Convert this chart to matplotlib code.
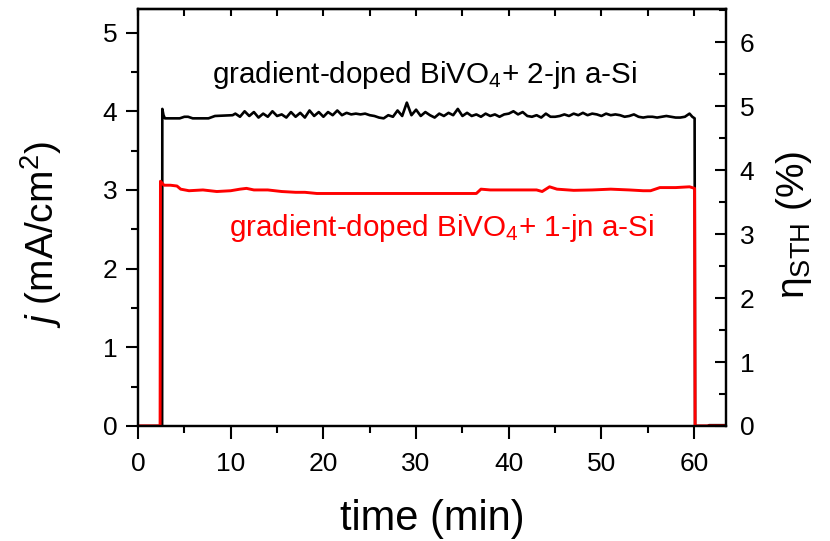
import numpy as np
import matplotlib
matplotlib.use("Agg")
import matplotlib.pyplot as plt
from matplotlib.ticker import MultipleLocator

plt.rcParams["font.family"] = ["Liberation Sans", "DejaVu Sans"]
plt.rcParams["mathtext.fontset"] = "custom"
plt.rcParams["mathtext.rm"] = "Liberation Sans"
plt.rcParams["mathtext.it"] = "Liberation Sans:italic"

# 2-junction a-Si (black) - start, noisy plateau, end
t_2jn_start = [0.0, 2.6, 2.62, 2.75, 2.9, 4.5, 5.0, 5.4, 5.9, 7.6, 8.3, 10.2]
j_2jn_start = [0.0, 0.0, 4.03, 3.95, 3.91, 3.91, 3.93, 3.93, 3.91, 3.91, 3.94, 3.95]

j_2jn_plateau = [
    3.97, 3.93, 4.00, 3.94, 3.99, 3.92, 3.97, 3.93, 4.00, 3.94,
    3.96, 3.92, 3.99, 3.93, 3.98, 3.92, 4.01, 3.94, 3.99, 3.93,
    3.99, 3.95, 4.01, 3.95, 3.98, 3.96, 3.97, 3.96, 3.97, 3.95,
    3.94, 3.92, 3.91, 3.95, 3.93, 4.01, 3.94, 4.11, 3.95, 4.02,
    3.94, 3.99, 3.95, 3.92, 3.97, 3.94, 3.98, 3.95, 4.03, 3.94,
    3.98, 3.94, 3.96, 3.93, 3.97, 3.94, 3.96, 3.93, 3.96, 3.97,
    4.00, 3.96, 3.99, 3.94, 3.93, 3.95, 3.92, 3.97, 3.93, 3.93,
    3.94, 3.96, 3.94, 3.97, 3.95, 3.98, 3.95, 3.97, 3.96, 3.94,
    3.97, 3.95, 3.96, 3.95, 3.93, 3.94, 3.96, 3.93, 3.92, 3.93,
    3.93, 3.92, 3.93, 3.94, 3.93, 3.92, 3.92, 3.93, 3.97,
]
t_2jn_plateau = np.linspace(10.5, 59.5, len(j_2jn_plateau))

t_2jn_end = [59.8, 60.05, 60.1, 61.5, 61.6, 63.4]
j_2jn_end = [3.93, 3.91, 0.0, 0.0, 0.01, 0.01]

# 1-junction a-Si (red)
t_1jn = [0.0, 2.38, 2.42, 2.8, 3.5, 4.2, 4.6, 5.5, 7.0, 8.5, 10.0, 11.0, 11.7,
         12.5, 14.0, 15.5, 17.0, 18.0, 19.3, 20.0, 25.0, 30.0, 35.0, 36.5,
         37.0, 38.0, 40.0, 42.0, 43.0, 43.6, 44.4, 45.2, 47.0, 49.0, 51.0,
         53.0, 54.5, 55.3, 56.3, 58.0, 59.5, 60.05, 60.1, 63.4]
j_1jn = [0.0, 0.0, 3.11, 3.06, 3.06, 3.05, 3.01, 2.99, 3.00, 2.98, 2.99, 3.01,
         3.02, 3.00, 3.00, 2.98, 2.97, 2.97, 2.955, 2.955, 2.955, 2.955, 2.955,
         2.955, 3.01, 3.00, 3.00, 3.00, 3.00, 2.98, 3.04, 3.01, 2.995, 3.00,
         3.01, 3.00, 2.99, 2.99, 3.03, 3.03, 3.04, 3.02, 0.0, 0.0]

t_black = np.concatenate([t_2jn_start, t_2jn_plateau, t_2jn_end])
j_black = np.concatenate([j_2jn_start, j_2jn_plateau, j_2jn_end])

# j (mA/cm2) -> eta_STH (%) = 1.23 * j
sth_factor = 1.23
j_max = 5.3

fig = plt.figure(figsize=(8.3, 5.41), dpi=100)
ax = fig.add_axes([0.1663, 0.2126, 0.708, 0.7708])

ax.plot(t_black, j_black, color="black", linewidth=1.9, zorder=2)
ax.plot(t_1jn, j_1jn, color="#ff0000", linewidth=2.1, zorder=3)

ax.set_xlim(0, 63.4)
ax.set_ylim(0, j_max)
ax.xaxis.set_major_locator(MultipleLocator(10))
ax.xaxis.set_minor_locator(MultipleLocator(5))
ax.yaxis.set_major_locator(MultipleLocator(1))
ax.yaxis.set_minor_locator(MultipleLocator(0.5))

ax.tick_params(axis="x", which="major", direction="out", length=9, width=1.5,
               labelsize=19, pad=10)
ax.tick_params(axis="x", which="minor", direction="out", length=5, width=1.5)
ax.tick_params(axis="y", which="major", direction="out", length=9, width=1.5,
               labelsize=19, pad=6)
ax.tick_params(axis="y", which="minor", direction="out", length=5, width=1.5)

for sp in ax.spines.values():
    sp.set_linewidth(1.6)

# top ticks (inward, short)
top = ax.secondary_xaxis("top")
top.xaxis.set_major_locator(MultipleLocator(10))
top.xaxis.set_minor_locator(MultipleLocator(5))
top.tick_params(which="both", direction="in", length=5, width=1.5, labeltop=False)
top.spines["top"].set_linewidth(1.6)

# right axis: eta_STH
ax2 = ax.twinx()
ax2.set_ylim(0, j_max * sth_factor)
ax2.yaxis.set_major_locator(MultipleLocator(1))
ax2.yaxis.set_minor_locator(MultipleLocator(0.5))
ax2.tick_params(axis="y", which="major", direction="in", length=8, width=1.5,
                labelsize=19, pad=10)
ax2.tick_params(axis="y", which="minor", direction="in", length=5, width=1.5)
for sp in ax2.spines.values():
    sp.set_linewidth(1.6)

ax.set_xlabel("time (min)", fontsize=30)
ax.xaxis.set_label_coords(0.5, -0.175)
ax.set_ylabel(r"$j$ (mA/cm$^2$)", fontsize=28)
ax.yaxis.set_label_coords(-0.126, 0.458)
ax2.set_ylabel("η$_{\\rm STH}$ (%)", fontsize=28)
ax2.yaxis.set_label_coords(1.083, 0.482)

ax.text(30.9, 4.46, r"gradient-doped BiVO$_4$+ 2-jn a-Si", color="black",
        fontsize=21.3, ha="center", va="center")
ax.text(32.8, 2.52, r"gradient-doped BiVO$_4$+ 1-jn a-Si", color="#ff0000",
        fontsize=21.3, ha="center", va="center")

fig.savefig("out.png", dpi=100)
